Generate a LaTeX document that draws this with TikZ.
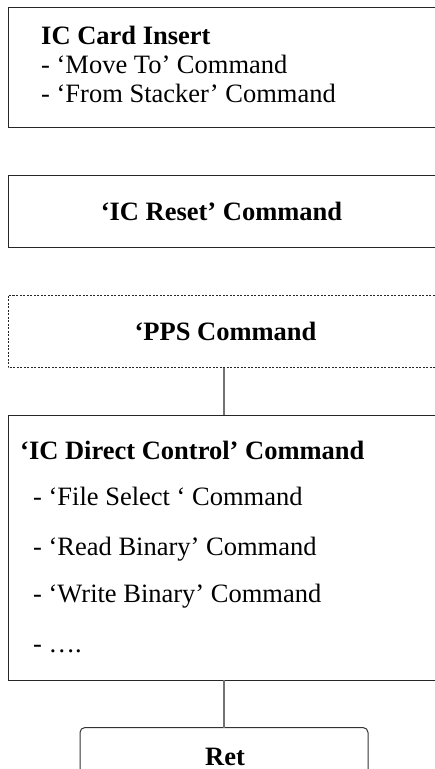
\documentclass[tikz,border=0pt]{standalone}
\usepackage{fontspec}
\setmainfont{Liberation Serif}
\begin{document}
\begin{tikzpicture}[x=1pt,y=-1pt,
  box/.style={draw=black!85,line width=1pt},
  dbox/.style={draw=black!85,line width=0.9pt,dash pattern=on 2pt off 1.5pt},
  rbox/.style={draw=black!80,line width=1pt,rounded corners=5pt},
  link/.style={draw=black!55,line width=1.5pt},
  txt/.style={anchor=base west,inner sep=0pt,font=\fontsize{26.5}{30}\selectfont},
  btxt/.style={txt,font=\fontsize{26.5}{30}\selectfont\bfseries},
  ctxt/.style={anchor=base,inner sep=0pt,font=\fontsize{26.5}{30}\selectfont\bfseries}]
\useasboundingbox (0,0) rectangle (435,769);
\clip (0,0) rectangle (435,769);
% boxes
\draw[box] (445,7) -- (8,7) -- (8,127) -- (445,127);
\draw[box] (445,175) -- (8,175) -- (8,247) -- (445,247);
\draw[dbox] (445,295) -- (8,295) -- (8,367.5) -- (445,367.5);
\draw[box] (445,415) -- (8,415) -- (8,680) -- (445,680);
\draw[rbox] (80,790) -- (80,727.5) -- (368,727.5) -- (368,790);
% named anchors
\coordinate (ppsb) at (224,367.5);
\coordinate (dct) at (224,415);
\coordinate (dcb) at (224,680);
\coordinate (rett) at (224,727.5);
\draw[link] (ppsb) -- (dct);
\draw[link] (dcb) -- (rett);
% texts
\node[btxt] (t1) at (41,44) {IC Card Insert};
\node[txt] (t2) at (41,73) {- ‘Move To’ Command};
\node[txt] (t3) at (41,102) {- ‘From Stacker’ Command};
\node[ctxt] (t4) at (221.5,220) {‘IC Reset’ Command};
\node[ctxt] (t5) at (225.5,340) {‘PPS Command};
\node[btxt] (t6) at (20,459) {‘IC Direct Control’ Command};
\node[txt] (t7) at (33,505) {- ‘File Select ‘ Command};
\node[txt] (t8) at (33,555) {- ‘Read Binary’ Command};
\node[txt] (t9) at (33,602) {- ‘Write Binary’ Command};
\node[txt] (t10) at (33,652) {- ….};
\node[ctxt] (t11) at (225,765.5) {Ret};
\end{tikzpicture}
\end{document}
